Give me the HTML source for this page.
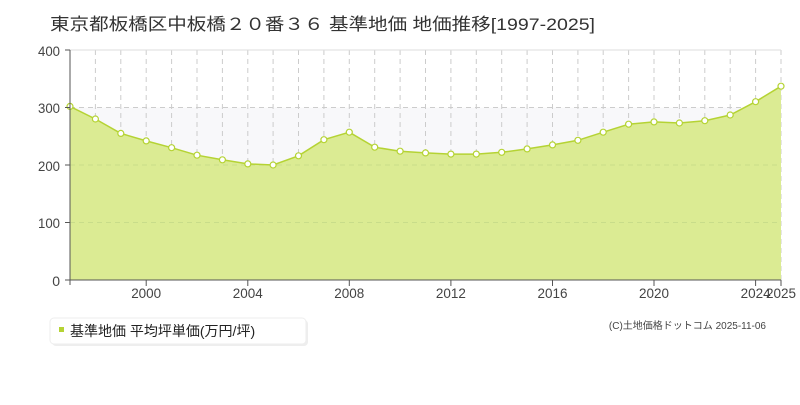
<!DOCTYPE html>
<html><head><meta charset="utf-8"><style>
body{margin:0;background:#fff;width:800px;height:400px;overflow:hidden;font-family:"Liberation Sans","Noto Sans CJK JP",sans-serif}
</style></head><body>
<svg width="800" height="400" xmlns="http://www.w3.org/2000/svg" font-family="Liberation Sans, Noto Sans CJK JP, sans-serif">
<text x="50" y="30" font-size="17" fill="#333" textLength="545" lengthAdjust="spacingAndGlyphs">東京都板橋区中板橋２０番３６ 基準地価 地価推移[1997-2025]</text>
<rect x="70" y="50" width="711" height="230" fill="#fff"/>
<rect x="70" y="107.5" width="711" height="60" fill="#f8f8fa"/>
<g stroke="#ccc" stroke-dasharray="5,4" stroke-width="1">
<line x1="95.4" y1="50" x2="95.4" y2="280"/><line x1="120.8" y1="50" x2="120.8" y2="280"/><line x1="146.2" y1="50" x2="146.2" y2="280"/><line x1="171.6" y1="50" x2="171.6" y2="280"/><line x1="197" y1="50" x2="197" y2="280"/><line x1="222.4" y1="50" x2="222.4" y2="280"/><line x1="247.8" y1="50" x2="247.8" y2="280"/><line x1="273.1" y1="50" x2="273.1" y2="280"/><line x1="298.5" y1="50" x2="298.5" y2="280"/><line x1="323.9" y1="50" x2="323.9" y2="280"/><line x1="349.3" y1="50" x2="349.3" y2="280"/><line x1="374.7" y1="50" x2="374.7" y2="280"/><line x1="400.1" y1="50" x2="400.1" y2="280"/><line x1="425.5" y1="50" x2="425.5" y2="280"/><line x1="450.9" y1="50" x2="450.9" y2="280"/><line x1="476.3" y1="50" x2="476.3" y2="280"/><line x1="501.7" y1="50" x2="501.7" y2="280"/><line x1="527.1" y1="50" x2="527.1" y2="280"/><line x1="552.5" y1="50" x2="552.5" y2="280"/><line x1="577.9" y1="50" x2="577.9" y2="280"/><line x1="603.2" y1="50" x2="603.2" y2="280"/><line x1="628.6" y1="50" x2="628.6" y2="280"/><line x1="654" y1="50" x2="654" y2="280"/><line x1="679.4" y1="50" x2="679.4" y2="280"/><line x1="704.8" y1="50" x2="704.8" y2="280"/><line x1="730.2" y1="50" x2="730.2" y2="280"/><line x1="755.6" y1="50" x2="755.6" y2="280"/><line x1="781" y1="50" x2="781" y2="280"/>
<line x1="70" y1="107.5" x2="781" y2="107.5"/><line x1="70" y1="165" x2="781" y2="165"/><line x1="70" y1="222.5" x2="781" y2="222.5"/>
</g>
<line x1="70" y1="50" x2="781" y2="50" stroke="#ddd"/>
<polygon fill="#dbeb93" points="70,280 70,106.4 95.4,119 120.8,133.4 146.2,140.9 171.6,147.7 197,155.2 222.4,159.8 247.8,163.9 273.1,165 298.5,155.8 323.9,139.7 349.3,132.2 374.7,147.2 400.1,151.2 425.5,152.9 450.9,154.1 476.3,154.1 501.7,152.3 527.1,148.9 552.5,144.9 577.9,140.3 603.2,132.2 628.6,124.2 654,121.9 679.4,123 704.8,120.7 730.2,115 755.6,101.7 781,86.2 781,280"/>
<g stroke="#c8dc8a" stroke-dasharray="5,4"><line x1="70" y1="165" x2="781" y2="165"/><line x1="70" y1="222.5" x2="781" y2="222.5"/></g>
<polyline fill="none" stroke="#b5d334" stroke-width="1.5" points="70,106.4 95.4,119 120.8,133.4 146.2,140.9 171.6,147.7 197,155.2 222.4,159.8 247.8,163.9 273.1,165 298.5,155.8 323.9,139.7 349.3,132.2 374.7,147.2 400.1,151.2 425.5,152.9 450.9,154.1 476.3,154.1 501.7,152.3 527.1,148.9 552.5,144.9 577.9,140.3 603.2,132.2 628.6,124.2 654,121.9 679.4,123 704.8,120.7 730.2,115 755.6,101.7 781,86.2"/>
<g fill="#fff" stroke="#b5d334" stroke-width="1.2">
<circle cx="70" cy="106.4" r="3"/><circle cx="95.4" cy="119" r="3"/><circle cx="120.8" cy="133.4" r="3"/><circle cx="146.2" cy="140.9" r="3"/><circle cx="171.6" cy="147.7" r="3"/><circle cx="197" cy="155.2" r="3"/><circle cx="222.4" cy="159.8" r="3"/><circle cx="247.8" cy="163.9" r="3"/><circle cx="273.1" cy="165" r="3"/><circle cx="298.5" cy="155.8" r="3"/><circle cx="323.9" cy="139.7" r="3"/><circle cx="349.3" cy="132.2" r="3"/><circle cx="374.7" cy="147.2" r="3"/><circle cx="400.1" cy="151.2" r="3"/><circle cx="425.5" cy="152.9" r="3"/><circle cx="450.9" cy="154.1" r="3"/><circle cx="476.3" cy="154.1" r="3"/><circle cx="501.7" cy="152.3" r="3"/><circle cx="527.1" cy="148.9" r="3"/><circle cx="552.5" cy="144.9" r="3"/><circle cx="577.9" cy="140.3" r="3"/><circle cx="603.2" cy="132.2" r="3"/><circle cx="628.6" cy="124.2" r="3"/><circle cx="654" cy="121.9" r="3"/><circle cx="679.4" cy="123" r="3"/><circle cx="704.8" cy="120.7" r="3"/><circle cx="730.2" cy="115" r="3"/><circle cx="755.6" cy="101.7" r="3"/><circle cx="781" cy="86.2" r="3"/>
</g>
<g stroke="#555" stroke-width="1">
<line x1="70" y1="50" x2="70" y2="285"/><line x1="65" y1="280" x2="781" y2="280"/>
<line x1="65" y1="50" x2="70" y2="50"/><line x1="65" y1="107.5" x2="70" y2="107.5"/><line x1="65" y1="165" x2="70" y2="165"/><line x1="65" y1="222.5" x2="70" y2="222.5"/>
<line x1="146.2" y1="280" x2="146.2" y2="286"/><line x1="247.8" y1="280" x2="247.8" y2="286"/><line x1="349.3" y1="280" x2="349.3" y2="286"/><line x1="450.9" y1="280" x2="450.9" y2="286"/><line x1="552.5" y1="280" x2="552.5" y2="286"/><line x1="654" y1="280" x2="654" y2="286"/><line x1="755.6" y1="280" x2="755.6" y2="286"/><line x1="781" y1="280" x2="781" y2="286"/>
</g>
<g font-size="14" fill="#444" text-anchor="end">
<text x="60" y="56" textLength="22" lengthAdjust="spacingAndGlyphs">400</text><text x="60" y="113" textLength="22" lengthAdjust="spacingAndGlyphs">300</text><text x="60" y="171" textLength="22" lengthAdjust="spacingAndGlyphs">200</text><text x="60" y="228" textLength="22" lengthAdjust="spacingAndGlyphs">100</text><text x="60" y="286">0</text>
</g>
<g font-size="14" fill="#444" text-anchor="middle">
<text x="146.2" y="298" textLength="30" lengthAdjust="spacingAndGlyphs">2000</text><text x="247.8" y="298" textLength="30" lengthAdjust="spacingAndGlyphs">2004</text><text x="349.3" y="298" textLength="30" lengthAdjust="spacingAndGlyphs">2008</text><text x="450.9" y="298" textLength="30" lengthAdjust="spacingAndGlyphs">2012</text><text x="552.5" y="298" textLength="30" lengthAdjust="spacingAndGlyphs">2016</text><text x="654" y="298" textLength="30" lengthAdjust="spacingAndGlyphs">2020</text><text x="755.6" y="298" textLength="30" lengthAdjust="spacingAndGlyphs">2024</text><text x="781" y="298" textLength="30" lengthAdjust="spacingAndGlyphs">2025</text>
</g>
<rect x="52" y="320" width="256" height="26" rx="4" fill="#eee"/>
<rect x="50" y="318" width="256" height="26" rx="4" fill="#fff" stroke="#eee"/>
<rect x="59" y="327" width="5" height="5" fill="#b5d334"/>
<text x="70" y="336" font-size="14" fill="#222">基準地価 平均坪単価(万円/坪)</text>
<text x="766" y="329" font-size="10" fill="#444" text-anchor="end">(C)土地価格ドットコム 2025-11-06</text>
</svg>
</body></html>
